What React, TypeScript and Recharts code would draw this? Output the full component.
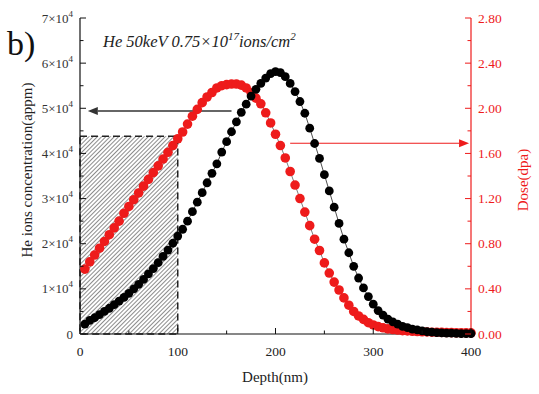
import React from 'react';
import { ComposedChart, Line, XAxis, YAxis, ReferenceArea, ReferenceLine } from 'recharts';

const depth = [
  5, 10, 15, 20, 25, 30, 35, 40, 45, 50,
  55, 60, 65, 70, 75, 80, 85, 90, 95, 100,
  105, 110, 115, 120, 125, 130, 135, 140, 145, 150,
  155, 160, 165, 170, 175, 180, 185, 190, 195, 200,
  205, 210, 215, 220, 225, 230, 235, 240, 245, 250,
  255, 260, 265, 270, 275, 280, 285, 290, 295, 300,
  305, 310, 315, 320, 325, 330, 335, 340, 345, 350,
  355, 360, 365, 370, 375, 380, 385, 390, 395, 400,
];

const heConc = [
  2200, 3000, 3600, 4300, 5000, 5700, 6500, 7300, 8100, 9000,
  10000, 11000, 12100, 13300, 14500, 15800, 17200, 18600, 20100, 21700,
  23200, 25000, 27100, 29200, 31300, 33500, 35600, 37700, 40300, 42600,
  44800, 47000, 49100, 50900, 52700, 54200, 55500, 56700, 57700, 58100,
  57900, 57000, 55500, 53700, 51500, 48900, 45600, 42200, 38900, 35300,
  31700, 28100, 24500, 21000, 18000, 15000, 12400, 10200, 8300, 6600,
  5200, 4200, 3300, 2700, 2200, 1700, 1400, 1100, 900, 700,
  500, 400, 300, 250, 200, 200, 150, 100, 100, 100,
];

const dose = [
  0.575, 0.64, 0.70, 0.76, 0.82, 0.88, 0.94, 1.00, 1.07, 1.13,
  1.19, 1.25, 1.31, 1.37, 1.43, 1.49, 1.55, 1.61, 1.67, 1.73,
  1.79, 1.86, 1.93, 1.99, 2.05, 2.10, 2.14, 2.18, 2.20, 2.21,
  2.215, 2.215, 2.205, 2.18, 2.14, 2.09, 2.04, 1.96, 1.87, 1.77,
  1.67, 1.56, 1.44, 1.32, 1.20, 1.08, 0.96, 0.84, 0.74, 0.63,
  0.54, 0.46, 0.39, 0.32, 0.255, 0.20, 0.16, 0.13, 0.10, 0.08,
  0.065, 0.055, 0.045, 0.04, 0.035, 0.03, 0.027, 0.024, 0.022, 0.02,
  0.018, 0.016, 0.015, 0.014, 0.013, 0.012, 0.011, 0.01, 0.01, 0.01,
];

const xTicks = [0, 50, 100, 150, 200, 250, 300, 350, 400];
const xMajor = [0, 100, 200, 300, 400];
const leftTicks = [0, 5000, 10000, 15000, 20000, 25000, 30000, 35000, 40000, 45000, 50000, 55000, 60000, 65000, 70000];
const rightTicks = [0, 0.2, 0.4, 0.6, 0.8, 1.0, 1.2, 1.4, 1.6, 1.8, 2.0, 2.2, 2.4, 2.6, 2.8];

const titleText = 'He 50keV 0.75×10';
const leftTitle = 'He ions concentration(appm)';
const rightTitle = 'Dose(dpa)';
const xTitle = 'Depth(nm)';

const RED = '#ee1b1b';
const FONT = '"Liberation Serif", "Times New Roman", serif';

const data = depth.map((d, i) => ({ depth: d, he: heConc[i], dose: dose[i] }));

const BottomTick = (props: any) => {
  const { x, y, payload } = props;
  const v = payload.value;
  const major = xMajor.includes(v);
  return (
    <g>
      <line x1={x} x2={x} y1={y} y2={y - (major ? 6 : 3.5)} stroke="#111" strokeWidth={1} />
      {major && (
        <text x={x} y={y + 22} textAnchor="middle" fontSize={13.5} fontFamily={FONT} fill="#222">
          {v}
        </text>
      )}
    </g>
  );
};

const TopTick = (props: any) => {
  const { x, y, payload } = props;
  const major = xMajor.includes(payload.value);
  return <line x1={x} x2={x} y1={y} y2={y + (major ? 6 : 3.5)} stroke="#111" strokeWidth={1} />;
};

const LeftTick = (props: any) => {
  const { x, y, payload } = props;
  const v = payload.value;
  const major = v % 10000 === 0;
  return (
    <g>
      <line x1={x} x2={x + (major ? 6 : 3.5)} y1={y} y2={y} stroke="#111" strokeWidth={1} />
      {major && (
        <text x={x - 7} y={y + 4.5} textAnchor="end" fontSize={13} fontFamily={FONT} fill="#333">
          {v === 0 ? (
            '0'
          ) : (
            <>
              {`${v / 10000}×10`}
              <tspan dy={-6} fontSize={9}>4</tspan>
            </>
          )}
        </text>
      )}
    </g>
  );
};

const RightTick = (props: any) => {
  const { x, y, payload } = props;
  const v = payload.value;
  const major = Math.round(v * 10) % 4 === 0;
  return (
    <g>
      <line x1={x} x2={x - (major ? 6 : 3.5)} y1={y} y2={y} stroke={RED} strokeWidth={1} />
      {major && (
        <text x={x + 7} y={y + 4.5} textAnchor="start" fontSize={13.5} fontFamily={FONT} fill={RED}>
          {v.toFixed(2)}
        </text>
      )}
    </g>
  );
};

const arrowShape = (color: string, w: number) => (props: any) => {
  const { x1, y1, x2, y2 } = props;
  const dx = x2 - x1;
  const dy = y2 - y1;
  const len = Math.hypot(dx, dy) || 1;
  const ux = dx / len;
  const uy = dy / len;
  const hl = 10;
  const hw = 4;
  const bx = x2 - ux * hl;
  const by = y2 - uy * hl;
  return (
    <g>
      <line x1={x1} y1={y1} x2={bx} y2={by} stroke={color} strokeWidth={w} />
      <polygon
        points={`${x2},${y2} ${bx - uy * hw},${by + ux * hw} ${bx + uy * hw},${by - ux * hw}`}
        fill={color}
      />
    </g>
  );
};

export default function App() {
  return (
    <div style={{ position: 'absolute', left: 0, top: 0, background: '#fff' }}>
      <ComposedChart width={539} height={394} data={data} margin={{ top: 18, right: 0, bottom: 0, left: 0 }}>
        <defs>
          <pattern id="hatch" patternUnits="userSpaceOnUse" width="3" height="10" patternTransform="rotate(45)">
            <rect x="0" y="0" width="3" height="10" fill="#ffffff" />
            <line x1="0.5" y1="0" x2="0.5" y2="10" stroke="#8c8c8c" strokeWidth="1" />
          </pattern>
        </defs>
        <XAxis
          xAxisId="b"
          dataKey="depth"
          type="number"
          domain={[0, 400]}
          ticks={xTicks}
          interval={0}
          height={60}
          tickSize={0}
          tickMargin={0}
          tickLine={false}
          axisLine={{ stroke: '#111', strokeWidth: 1.2 }}
          tick={(p: any) => <BottomTick {...p} />}
        />
        <XAxis
          xAxisId="t"
          orientation="top"
          dataKey="depth"
          type="number"
          domain={[0, 400]}
          ticks={xTicks}
          interval={0}
          height={0}
          tickSize={0}
          tickMargin={0}
          tickLine={false}
          axisLine={{ stroke: '#111', strokeWidth: 1.2 }}
          tick={(p: any) => <TopTick {...p} />}
        />
        <YAxis
          yAxisId="l"
          type="number"
          domain={[0, 70000]}
          ticks={leftTicks}
          interval={0}
          width={80}
          tickSize={0}
          tickMargin={0}
          tickLine={false}
          axisLine={{ stroke: '#111', strokeWidth: 1.2 }}
          tick={(p: any) => <LeftTick {...p} />}
        />
        <YAxis
          yAxisId="r"
          orientation="right"
          type="number"
          domain={[0, 2.8]}
          ticks={rightTicks}
          interval={0}
          width={68}
          tickSize={0}
          tickMargin={0}
          tickLine={false}
          axisLine={{ stroke: RED, strokeWidth: 1.2 }}
          tick={(p: any) => <RightTick {...p} />}
        />
        <ReferenceArea
          xAxisId="b"
          yAxisId="l"
          x1={0}
          x2={100}
          y1={0}
          y2={43800}
          fill="url(#hatch)"
          fillOpacity={1}
          stroke="#222"
          strokeDasharray="7 4"
          strokeWidth={1.5}
        />
        <Line
          xAxisId="b"
          yAxisId="r"
          dataKey="dose"
          stroke="#444"
          strokeWidth={0.7}
          dot={{ r: 4.8, fill: RED, stroke: RED, strokeWidth: 0 }}
          activeDot={false}
          isAnimationActive={false}
        />
        <Line
          xAxisId="b"
          yAxisId="l"
          dataKey="he"
          stroke="#222"
          strokeWidth={0.8}
          dot={{ r: 4.4, fill: '#000', stroke: '#000', strokeWidth: 0 }}
          activeDot={false}
          isAnimationActive={false}
        />
        <ReferenceLine
          xAxisId="b"
          yAxisId="l"
          segment={[{ x: 155, y: 49400 }, { x: 8, y: 49400 }]}
          stroke="#333"
          shape={arrowShape('#333', 1.5)}
        />
        <ReferenceLine
          xAxisId="b"
          yAxisId="r"
          segment={[{ x: 215, y: 1.69 }, { x: 398, y: 1.69 }]}
          stroke={RED}
          shape={arrowShape(RED, 1.2)}
        />
        <text x={7} y={55} fontSize={34} fontFamily={FONT} fill="#111">b)</text>
        <text x={103} y={47} fontSize={16.5} fontStyle="italic" fontFamily={FONT} fill="#222">
          {titleText}
          <tspan dy={-7} fontSize={11}>17</tspan>
          <tspan dy={7}>ions/cm</tspan>
          <tspan dy={-7} fontSize={11}>2</tspan>
        </text>
        <text
          x={32}
          y={170}
          transform="rotate(-90 32 170)"
          textAnchor="middle"
          fontSize={15}
          fontFamily={FONT}
          fill="#222"
        >
          {leftTitle}
        </text>
        <text
          x={528}
          y={180}
          transform="rotate(-90 528 180)"
          textAnchor="middle"
          fontSize={15}
          fontFamily={FONT}
          fill={RED}
        >
          {rightTitle}
        </text>
        <text x={275} y={382} textAnchor="middle" fontSize={15} fontFamily={FONT} fill="#222">
          {xTitle}
        </text>
      </ComposedChart>
    </div>
  );
}
